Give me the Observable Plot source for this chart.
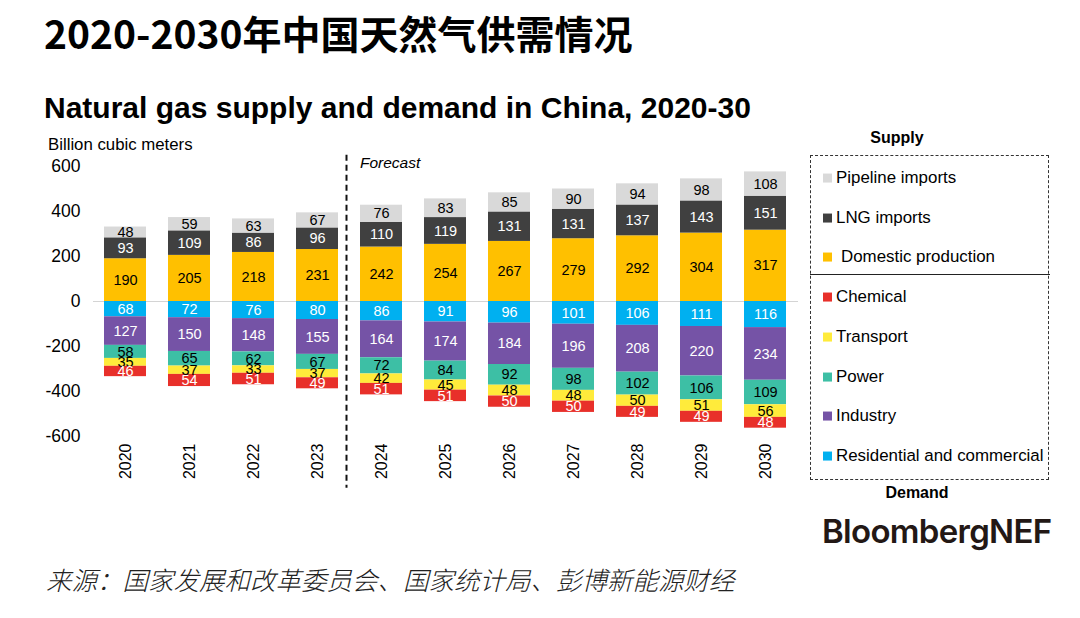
<!DOCTYPE html>
<html>
<head>
<meta charset="utf-8">
<script src="https://cdn.jsdelivr.net/npm/d3@7"></script>
<script src="https://cdn.jsdelivr.net/npm/@observablehq/plot@0.6"></script>
<style>
  html, body { margin: 0; padding: 0; background: #fff; }
  #page { position: relative; width: 1080px; height: 618px; overflow: hidden; font-family: "Liberation Sans", Arial, sans-serif; color: #000; }
  .abs { position: absolute; white-space: nowrap; }
  #title { left: 44px; top: 13px; font-family: "Noto Sans CJK SC", sans-serif; font-weight: 700; font-size: 39px; line-height: 1; }
  #subtitle { left: 44px; top: 93px; font-weight: 700; font-size: 30px; line-height: 1; }
  #unit { left: 48px; top: 137px; font-size: 16.8px; line-height: 1; }
  #forecast { left: 360px; top: 155px; font-size: 15.5px; font-style: italic; line-height: 1; }
  #caption { left: 46px; top: 566px; font-family: "Noto Sans CJK SC", sans-serif; font-style: italic; font-size: 25.5px; line-height: 1; color: #222; font-weight: 300; }
  #logo { left: 822px; top: 515px; font-family: Inter, "Open Sans", sans-serif; font-weight: 600; font-size: 33px; letter-spacing: -0.7px; line-height: 1; color: #231815; }
  #legbox { left: 810px; top: 155px; width: 239px; height: 325px; border: 1px dashed #333; box-sizing: border-box; }
  #legsep { left: 810px; top: 274px; width: 240px; height: 0; border-top: 1.5px solid #222; }
  .leghead { font-weight: 700; font-size: 16px; line-height: 1; transform: translateX(-50%); }
  .legitem { left: 823px; font-size: 16.9px; line-height: 1; display: flex; align-items: center; transform: translateY(-50%); }
  .sw { width: 9px; height: 9px; margin-right: 4px; display: inline-block; }
  #chart { position: absolute; left: 0; top: 0; }
</style>
</head>
<body>
<div id="page">
  <div id="chart"></div>
  <div id="title" class="abs">2020-2030年中国天然气供需情况</div>
  <div id="subtitle" class="abs">Natural gas supply and demand in China, 2020-30</div>
  <div id="unit" class="abs">Billion cubic meters</div>
  <div id="forecast" class="abs">Forecast</div>
  <div id="legbox" class="abs"></div>
  <div id="legsep" class="abs"></div>
  <div id="legend"></div>
  <div class="abs leghead" style="left:897px; top:130px;">Supply</div>
  <div class="abs leghead" style="left:917px; top:485px;">Demand</div>
  <div id="logo" class="abs">BloombergNEF</div>
  <div id="caption" class="abs">来源：国家发展和改革委员会、国家统计局、彭博新能源财经</div>
</div>
<script>
// ---- Data ----
const years = ["2020","2021","2022","2023","2024","2025","2026","2027","2028","2029","2030"];

// Supply (positive)
const domesticProduction = [190,205,218,231,242,254,267,279,292,304,317];
const lngImports         = [93,109,86,96,110,119,131,131,137,143,151];
const pipelineImports    = [48,59,63,67,76,83,85,90,94,98,108];

// Demand (drawn below zero)
const residentialCommercial = [68,72,76,80,86,91,96,101,106,111,116];
const industry              = [127,150,148,155,164,174,184,196,208,220,234];
const power                 = [58,65,62,67,72,84,92,98,102,106,109];
const transport             = [35,37,33,37,42,45,48,48,50,51,56];
const chemical              = [46,54,51,49,51,51,50,50,49,49,48];

const yTicks = [-600,-400,-200,0,200,400,600];

const seriesNames = ["Domestic production","LNG imports","Pipeline imports",
  "Residential and commercial","Industry","Power","Transport","Chemical"];
const seriesColors = ["#ffc000","#404040","#d9d9d9","#00b0f0","#7553a6","#3dbfa5","#ffeb3b","#e8302a"];
const labelColors  = ["#000","#fff","#000","#fff","#fff","#000","#000","#fff"];

const supplyDefs = [
  ["Domestic production", domesticProduction],
  ["LNG imports", lngImports],
  ["Pipeline imports", pipelineImports]
];
const demandDefs = [
  ["Residential and commercial", residentialCommercial],
  ["Industry", industry],
  ["Power", power],
  ["Transport", transport],
  ["Chemical", chemical]
];

const fillOf = Object.fromEntries(seriesNames.map((s, i) => [s, seriesColors[i]]));
const labelOf = Object.fromEntries(seriesNames.map((s, i) => [s, labelColors[i]]));

const rows = [];
for (const [s, vals] of supplyDefs) vals.forEach((v, i) => rows.push({year: years[i], series: s, value: v}));
for (const [s, vals] of demandDefs) vals.forEach((v, i) => rows.push({year: years[i], series: s, value: -v}));

// ---- Chart ----
const chart = Plot.plot({
  width: 1080,
  height: 618,
  marginLeft: 93,
  marginRight: 282,
  marginTop: 166,
  marginBottom: 182,
  style: {fontFamily: "'Liberation Sans', Arial, sans-serif", background: "transparent", overflow: "visible"},
  x: {domain: years, paddingInner: 0.34, paddingOuter: 0.17, label: null},
  y: {domain: [-600, 600], label: null},
  color: {type: "identity"},
  marks: [
    Plot.ruleY([0], {stroke: "#d4d4d4", strokeWidth: 1}),
    Plot.barY(rows, Plot.stackY({x: "year", y: "value", z: "series", order: seriesNames, fill: d => fillOf[d.series]})),
    Plot.text(rows, Plot.stackY({x: "year", y: "value", z: "series", order: seriesNames,
      text: d => String(Math.abs(d.value)), fill: d => labelOf[d.series], fontSize: 14.5})),
    Plot.axisY({ticks: yTicks, tickSize: 0, tickPadding: 13, fontSize: 17.5, label: null, tickFormat: d => String(d), fill: "#000"}),
    Plot.axisX({tickRotate: -90, tickSize: 0, tickPadding: 7, fontSize: 16, label: null, fill: "#000"}),
    Plot.ruleX(["2023"], {dx: 29, y1: 650, y2: -830, stroke: "#111", strokeWidth: 2, strokeDasharray: "6,4"})
  ]
});
document.getElementById("chart").appendChild(chart);

// ---- Legend (HTML) ----
const legendItems = [
  ["Pipeline imports", 178, 0],
  ["LNG imports", 218, 0],
  ["Domestic production", 257, 5],
  ["Chemical", 297, 0],
  ["Transport", 337, 0],
  ["Power", 377, 0],
  ["Industry", 416, 0],
  ["Residential and commercial", 456, 0]
];
const legend = document.getElementById("legend");
for (const [name, top, extra] of legendItems) {
  const el = document.createElement("div");
  el.className = "abs legitem";
  el.style.top = top + "px";
  el.innerHTML = `<span class="sw" style="background:${fillOf[name]}; margin-right:${4 + extra}px"></span>${name}`;
  legend.appendChild(el);
}
</script>
</body>
</html>
